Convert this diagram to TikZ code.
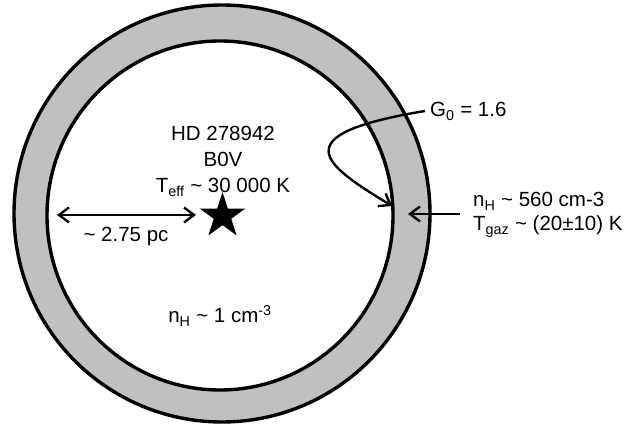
\documentclass[tikz,border=0pt]{standalone}
\usepackage{fontspec}
\setmainfont{Liberation Sans}
\usetikzlibrary{arrows.meta, positioning, shapes.geometric}
\definecolor{shellGray}{RGB}{192,192,192}
\newcommand{\lowtxt}[1]{\textsubscript{#1}}
\newcommand{\approxsign}{\textasciitilde{}}
\tikzset{
    shellline/.style={draw=black, line width=3.4pt},
    infotext/.style={
        font=\fontsize{20.5}{26}\selectfont,
        inner sep=0pt
    },
    pointer/.style={-{Straight Barb[length=10pt,width=15pt]}, line width=2.4pt},
    spanarrow/.style={{Straight Barb[length=10pt,width=15pt]}-{Straight Barb[length=10pt,width=15pt]}, line width=2.4pt},
    starmark/.style={
        star, star points=5, star point ratio=2.618,
        fill=black, minimum size=48pt, inner sep=0pt
    }
}

\begin{document}
\begin{tikzpicture}[x=1pt, y=-1pt]
    \useasboundingbox (0,0) rectangle (624,427);

    % shell and cavity
    \fill[shellGray] (222,213.5) ellipse [x radius=208pt, y radius=208.5pt];
    \fill[white] (220,215.5) ellipse [x radius=173pt, y radius=174.5pt];
    \draw[shellline] (222,213.5) ellipse [x radius=208pt, y radius=208.5pt];
    \draw[shellline] (220,215.5) ellipse [x radius=173pt, y radius=174.5pt];

    % star and its data
    \node[starmark] (star) at (222.5,216) {};
    \node[infotext, anchor=base] (hd) at (223,141) {HD 278942};
    \node[infotext, anchor=base] (sptype) at (223,167) {B0V};
    \node[infotext, anchor=base] (teff) at (223,193) {T\lowtxt{eff} \approxsign{} 30 000 K};

    \node[infotext, anchor=base] (dist) at (126,242) {\approxsign{} 2.75 pc};
    \node[infotext, anchor=base] (ncav) at (220,323) {n\lowtxt{H} \approxsign{} 1 cm\textsuperscript{-3}};

    \node[infotext, anchor=base west] (gzero) at (430,117) {G\lowtxt{0} = 1.6};
    \node[infotext, anchor=base west] (nshell) at (473,207) {n\lowtxt{H} \approxsign{} 560 cm-3};
    \node[infotext, anchor=base west] (tshell) at (473,231) {T\lowtxt{gaz} \approxsign{} (20±10) K};

    % connectors
    \coordinate (spanL) at (57,215);
    \coordinate (spanR) at (196,215);
    \coordinate (gzeroTail) at (425,111);
    \coordinate (gzeroTip) at (392,206);
    \coordinate (shellTail) at (460,214);
    \coordinate (shellTip) at (408,214);

    \draw[spanarrow] (spanL) -- (spanR);
    \draw[pointer] (gzeroTail) .. controls (280,135) and (325,165) .. (gzeroTip);
    \draw[pointer] (shellTail) -- (shellTip);
\end{tikzpicture}
\end{document}
